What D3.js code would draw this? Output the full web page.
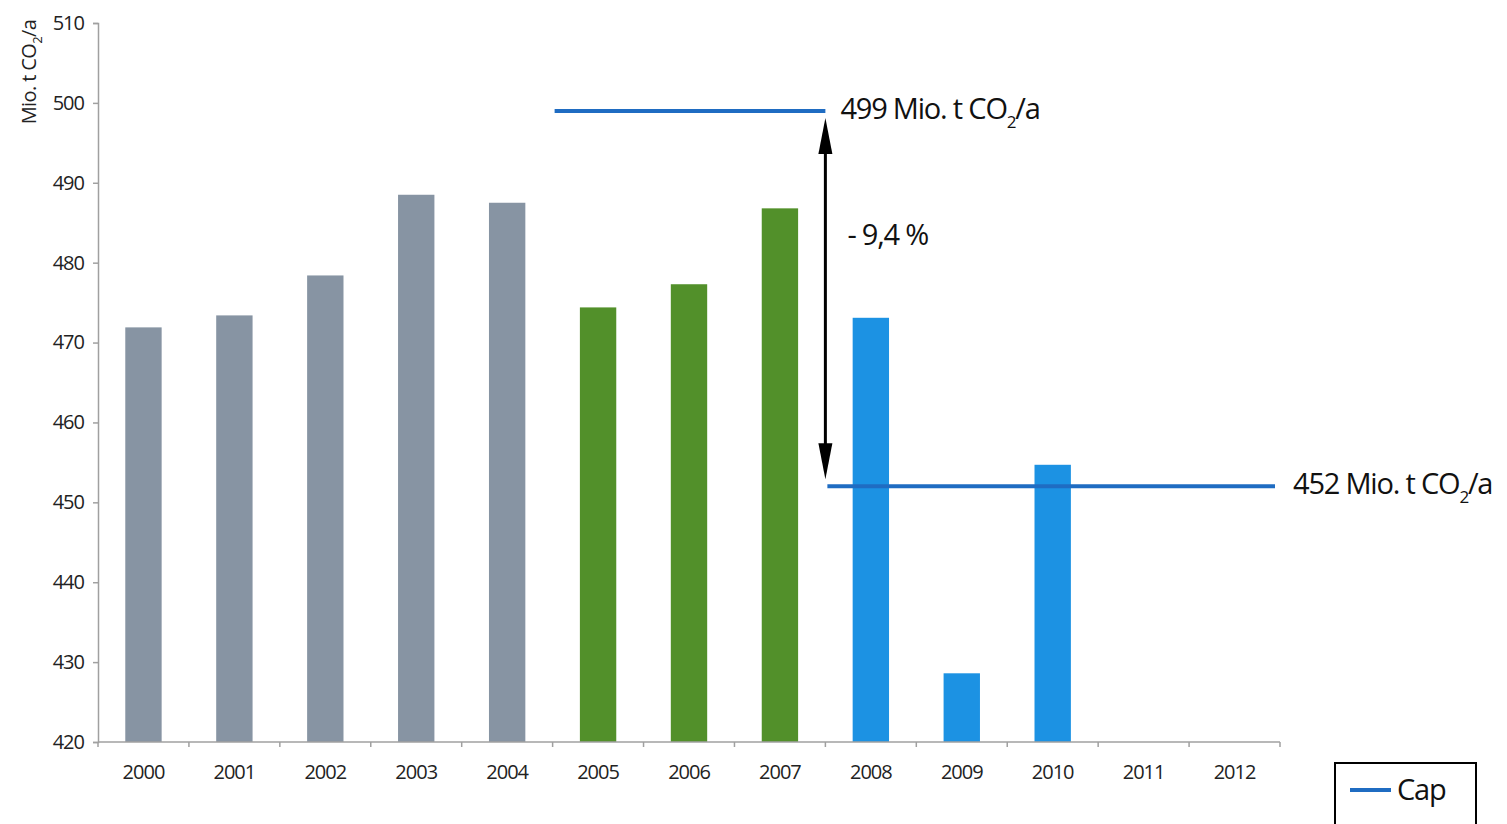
<!DOCTYPE html>
<html><head><meta charset="utf-8">
<script src="https://cdn.jsdelivr.net/npm/d3@7"></script>
<style>body{margin:0;background:#fff;} text{font-family:"Open Sans",sans-serif;}</style>
</head><body><svg id="c" width="1507" height="824"></svg>
<script>
const years = ["2000","2001","2002","2003","2004","2005","2006","2007","2008","2009","2010","2011","2012"];
const emissions = [471.9, 473.4, 478.4, 488.5, 487.5, 474.4, 477.3, 486.8, 473.1, 428.6, 454.7, null, null];
const periods = ["base","base","base","base","base","p1","p1","p1","p2","p2","p2","p2","p2"];
const capStart = ["2005","2008"];
const capEnd = ["2007","2012"];
const capValues = [499, 452];
const capChange = "- 9,4 %";
const yTicks = [420,430,440,450,460,470,480,490,500,510];

const colors = {base:"#8794a3", p1:"#52902a", p2:"#1c92e3"};
const capColor = "#1f6cc2";
const svg = d3.select("#c");
const m = {l:98};
const x = d3.scaleBand().domain(years).range([m.l, 1280]).paddingInner(0.6).paddingOuter(0.3);
const y = d3.scaleLinear().domain([420,510]).range([742, 23]);

// bars
svg.append("g").selectAll("rect").data(years.map((d,i)=>({year:d,v:emissions[i],p:periods[i]})).filter(d=>d.v!=null))
 .enter().append("rect")
 .attr("x",d=>x(d.year)).attr("width",x.bandwidth())
 .attr("y",d=>y(d.v)).attr("height",d=>y(420)-y(d.v))
 .attr("fill",d=>colors[d.p]);

// axes
const axCol = "#a0a0a0";
const yAx = svg.append("g").attr("transform",`translate(${m.l},0)`)
 .call(d3.axisLeft(y).tickValues(yTicks).tickSize(5).tickPadding(9));
yAx.selectAll("path,line").attr("stroke",axCol).attr("stroke-width",1.5);
yAx.selectAll("text").attr("font-size",20).attr("letter-spacing",-1).attr("fill","#222");

const step = x.step();
const xAx = svg.append("g").attr("transform",`translate(0,${y(420)})`);
xAx.append("line").attr("x1",m.l).attr("x2",1280).attr("stroke",axCol).attr("stroke-width",1.5);
xAx.selectAll("line.t").data(d3.range(years.length+1)).enter().append("line").attr("class","t")
 .attr("x1",i=>m.l+i*step).attr("x2",i=>m.l+i*step).attr("y1",0).attr("y2",5).attr("stroke",axCol).attr("stroke-width",1.5);
xAx.selectAll("text").data(years).enter().append("text")
 .attr("x",d=>x(d)+x.bandwidth()/2).attr("y",37).attr("text-anchor","middle")
 .attr("font-size",20).attr("letter-spacing",-1).attr("fill","#222").text(d=>d);

// y label
const yl = svg.append("text").attr("transform","translate(36,72) rotate(-90)").attr("text-anchor","middle")
 .attr("font-size",20).attr("letter-spacing",-0.6).attr("fill","#222");
yl.append("tspan").text("Mio. t CO");
yl.append("tspan").attr("font-size",13).attr("dy",6).text("2");
yl.append("tspan").attr("dy",-6).text("/a");

// cap lines
capValues.forEach((v,i)=>{
  const x1 = x(capStart[i]) - x.step()*x.paddingInner()/2;
  const x2 = x(capEnd[i]) + x.bandwidth() + x.step()*x.paddingInner()/2;
  svg.append("line").attr("x1",x1+2).attr("x2",x2-(i==1?5:0)).attr("y1",y(v)).attr("y2",y(v))
   .attr("stroke",capColor).attr("stroke-width",4);
  const lx = i==0 ? x2+15 : x2+13;
  const t = svg.append("text").attr("x",lx).attr("y",y(v)+8).attr("font-size",29).attr("letter-spacing",-1.2).attr("fill","#111");
  t.append("tspan").text(v+" Mio. t CO");
  t.append("tspan").attr("font-size",17).attr("dy",9).text("2");
  t.append("tspan").attr("dy",-9).text("/a");
});

// double arrow
const ax = x(capStart[1]) - x.step()*x.paddingInner()/2;
const yt = y(capValues[0])+7, yb = y(capValues[1])-7;
svg.append("line").attr("x1",ax).attr("x2",ax).attr("y1",yt+20).attr("y2",yb-20).attr("stroke","#000").attr("stroke-width",3);
svg.append("path").attr("d",`M${ax},${yt} L${ax-7},${yt+36} L${ax+7},${yt+36}Z`).attr("fill","#000");
svg.append("path").attr("d",`M${ax},${yb} L${ax-7},${yb-36} L${ax+7},${yb-36}Z`).attr("fill","#000");
svg.append("text").attr("x",ax+22).attr("y",(y(capValues[0])+y(capValues[1]))/2-54)
 .attr("font-size",29).attr("letter-spacing",-1.2).attr("fill","#111").text(capChange);

// legend
svg.append("rect").attr("x",1335).attr("y",763).attr("width",141).attr("height",70)
 .attr("fill","#fff").attr("stroke","#000").attr("stroke-width",2);
svg.append("line").attr("x1",1350).attr("x2",1391).attr("y1",790).attr("y2",790).attr("stroke",capColor).attr("stroke-width",4);
svg.append("text").attr("x",1397).attr("y",800).attr("font-size",29).attr("letter-spacing",-1.2).attr("fill","#111").text("Cap");
</script></body></html>
